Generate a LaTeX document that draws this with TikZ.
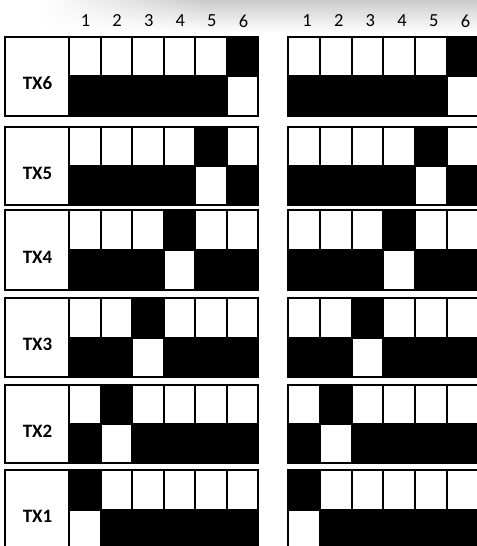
\documentclass[tikz,border=0pt]{standalone}
\usepackage{fontspec}
\setmainfont{Carlito}
\begin{document}
\begin{tikzpicture}[x=1bp,y=-1bp,line width=2bp,
  cell/.style={draw=black},
  lbl/.style={font=\bfseries\fontsize{19}{19}\selectfont,inner sep=0pt},
  num/.style={font=\fontsize{18.5}{18.5}\selectfont,inner sep=0pt}]
\useasboundingbox (0,0) rectangle (477,546);
\clip (0,0) rectangle (477,546);
% faint grey band at the top
\foreach \i in {0,...,15} {
  \pgfmathsetmacro\p{20*(1-\i/16)}
  \pgfmathsetmacro\ya{2*\i}
  \pgfmathsetmacro\yb{2*\i+2.2}
  \shade[left color=white, right color=black!\p] (40,\ya) rectangle (200.5,\yb);
  \fill[black!\p] (200,\ya) rectangle (477,\yb);
}
% column numbers
\foreach \k in {1,...,6} {
  \node[num] (ln\k) at ({85.5+31.6*(\k-1)},21) {\k};
  \node[num] (rn\k) at ({307+31.7*(\k-1)},21) {\k};
}
% rows
\foreach \n/\t/\b in {6/37/116, 5/127/205, 4/210/290, 3/298/377, 2/385/463, 1/470/549} {
  \pgfmathsetmacro\mm{(\t+\b)/2}
  \draw[cell,fill=white] (5,\t) rectangle (69,\b);
  \node[lbl] (tx\n) at (37.5,\mm+7) {TX\n};
  \foreach \k in {1,...,6} {
    \edef\tc{\ifnum\k=\n black\else white\fi}
    \edef\bc{\ifnum\k=\n white\else black\fi}
    \pgfmathsetmacro\xa{69+31.5*(\k-1)}
    \pgfmathsetmacro\xb{69+31.5*\k}
    \draw[cell,fill=\bc] (\xa,\mm) rectangle (\xb,\b);
    \draw[cell,fill=\tc] (\xa,\t) rectangle (\xb,\mm);
    \pgfmathsetmacro\ya{288+31.8*(\k-1)}
    \pgfmathsetmacro\yb{288+31.8*\k}
    \draw[cell,fill=\bc] (\ya,\mm) rectangle (\yb,\b);
    \draw[cell,fill=\tc] (\ya,\t) rectangle (\yb,\mm);
  }
}
\end{tikzpicture}
\end{document}
